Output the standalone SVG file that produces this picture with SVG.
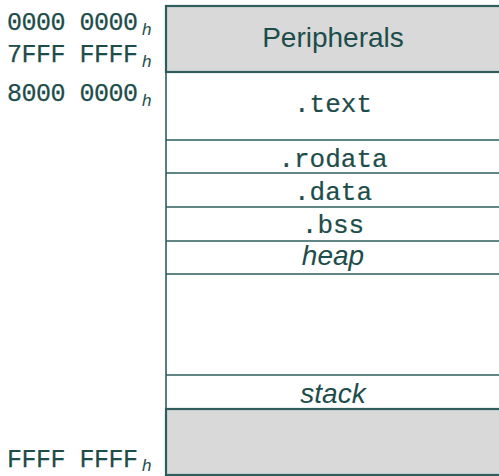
<svg xmlns="http://www.w3.org/2000/svg" width="499" height="476" viewBox="0 0 499 476">
<style>
.addr{font-family:"Liberation Mono",monospace;font-size:25px;fill:#1d4d4b;stroke:#1d4d4b;stroke-width:0.25}
.sub{font-family:"Liberation Sans",Arial,sans-serif;font-style:italic;font-size:17px;fill:#1d4d4b}
.mono{font-family:"Liberation Mono",monospace;font-size:26px;fill:#1d4d4b;stroke:#1d4d4b;stroke-width:0.2;text-anchor:middle}
.sans{font-family:"Liberation Sans",Arial,sans-serif;font-size:28px;fill:#1d4d4b;text-anchor:middle}
.it{font-style:italic}
.gray{fill:#d9d9d9;stroke:#2e5e5c;stroke-width:2.2}
.white{fill:#ffffff;stroke:#2e5e5c;stroke-width:1.6}
.sep{stroke:#2e5e5c;stroke-width:1.6}
</style>
<rect width="499" height="476" fill="#ffffff"/>
<g id="addresses">
<text class="addr" x="7" y="30" textLength="131">0000 0000</text><text class="sub" x="142" y="35">h</text>
<text class="addr" x="7" y="62" textLength="131">7FFF FFFF</text><text class="sub" x="142" y="67">h</text>
<text class="addr" x="7" y="101" textLength="131">8000 0000</text><text class="sub" x="142" y="106">h</text>
<text class="addr" x="7" y="467" textLength="131">FFFF FFFF</text><text class="sub" x="142" y="471">h</text>
</g>
<g id="memory">
<rect class="white" x="166" y="6" width="340" height="469"/>
</g>
<g id="peripherals">
<rect class="gray" x="166" y="6" width="340" height="66"/>
<text class="sans" x="333" y="47">Peripherals</text>
</g>
<g id="text-section">
<text class="mono" x="333" y="112">.text</text>
</g>
<g id="rodata">
<line class="sep" x1="166" y1="140" x2="499" y2="140"/>
<text class="mono" x="333" y="167">.rodata</text>
</g>
<g id="data">
<line class="sep" x1="166" y1="173" x2="499" y2="173"/>
<text class="mono" x="333" y="200">.data</text>
</g>
<g id="bss">
<line class="sep" x1="166" y1="207" x2="499" y2="207"/>
<text class="mono" x="333" y="233">.bss</text>
</g>
<g id="heap">
<line class="sep" x1="166" y1="241" x2="499" y2="241"/>
<text class="sans it" x="333" y="265">heap</text>
</g>
<g id="free">
<line class="sep" x1="166" y1="274" x2="499" y2="274"/>
</g>
<g id="stack">
<line class="sep" x1="166" y1="375" x2="499" y2="375"/>
<text class="sans it" x="333" y="403">stack</text>
</g>
<g id="kernel">
<rect class="gray" x="166" y="409" width="340" height="66"/>
</g>
</svg>
